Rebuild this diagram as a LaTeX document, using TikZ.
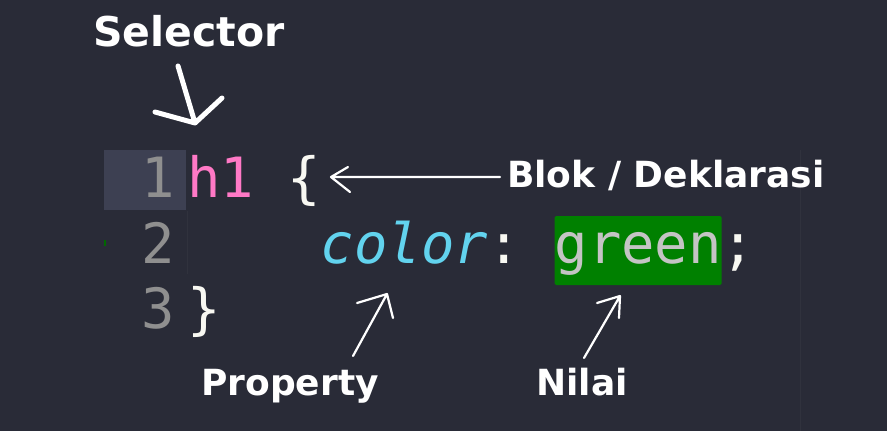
\documentclass[tikz,border=0pt]{standalone}
\usepackage{fontspec}
\setmainfont{DejaVu Sans}
\setmonofont{DejaVu Sans Mono}
\usepackage{tikz}

\definecolor{bgdark}{HTML}{292B37}
\definecolor{curline}{HTML}{3D4052}
\definecolor{guide}{HTML}{30323D}
\definecolor{numgrey}{HTML}{8F8F8F}
\definecolor{selpink}{HTML}{FF79C6}
\definecolor{propcyan}{HTML}{62D3EE}
\definecolor{plainfg}{HTML}{F8F8F2}
\definecolor{valgreen}{HTML}{008000}
\definecolor{valtext}{HTML}{C4C4C4}

\begin{document}
\begin{tikzpicture}[x=1pt, y=-1pt,
	every node/.append style={inner sep=0pt, anchor=base west},
	code/.style={font=\fontsize{55.5}{66}\selectfont\ttfamily},
	lineno/.style={code, text=numgrey, anchor=base east},
	tag/.style={font=\fontsize{36}{40}\selectfont\bfseries, text=white},
	hand/.style={draw=white, line width=2.2pt, line cap=round, line join=round}]

	% editor background
	\fill[bgdark] (0,0) rectangle (887,431);
	\useasboundingbox (0,0) rectangle (887,431);
	\fill[curline] (104,150) rectangle (186,210);
	\draw[guide, line width=1pt] (187,211) -- (187,274);
	\draw[guide, line width=1pt] (800,150) -- (800,431);
	\fill[valgreen!80!black] (103.5,240) rectangle (105.5,246);

	% line numbers
	\node[lineno] (n1) at (175,197) {1};
	\node[lineno] (n2) at (175,263) {2};
	\node[lineno] (n3) at (175,328) {3};

	% code
	\node[code, text=selpink] (sel) at (187,197) {h1};
	\node[code, text=plainfg] (open) at (287.2,197) {\{};
	\node[code, text=propcyan, font=\fontsize{55.5}{66}\selectfont\ttfamily\itshape] (prop) at (320.6,263) {color};
	\node[code, text=plainfg] (colon) at (487.6,263) {:};
	\node[code, text=valtext, fill=valgreen, rounded corners=1.5pt, text height=47pt, text depth=22pt] (val) at (554.4,263) {green};
	\node[code, text=plainfg] (semi) at (721.4,263) {;};
	\node[code, text=plainfg] (close) at (187,328) {\}};

	% labels
	\node[tag, font=\fontsize{41}{46}\selectfont\bfseries] (selector) at (93,46) {Selector};
	\node[tag] (blok) at (507,187) {Blok / Deklarasi};
	\node[tag] (property) at (201,395) {Property};
	\node[tag] (nilai) at (536,395) {Nilai};

	% hand drawn arrows
	\coordinate (selTail) at (178,66);
	\coordinate (selTip) at (195,123);
	\coordinate (selL) at (155,112);
	\coordinate (selR) at (222,98);
	\coordinate (blokTail) at (500,177);
	\coordinate (blokTip) at (331,177);
	\coordinate (blokL) at (348,167);
	\coordinate (blokR) at (350,192);
	\coordinate (propTail) at (353,356);
	\coordinate (propTip) at (387,294);
	\coordinate (propL) at (357,303);
	\coordinate (propR) at (393,318);
	\coordinate (valTail) at (584,358);
	\coordinate (valTip) at (620,296);
	\coordinate (valL) at (597,303);
	\coordinate (valR) at (619,318);

	\draw[hand, line width=5pt] (selTail) -- (selTip) (selL) -- (selTip) -- (selR);
	\draw[hand] (blokTail) -- (blokTip) (blokL) -- (blokTip) -- (blokR);
	\draw[hand] (propTail) -- (propTip) (propL) -- (propTip) -- (propR);
	\draw[hand] (valTail) -- (valTip) (valL) -- (valTip) -- (valR);
\end{tikzpicture}
\end{document}
